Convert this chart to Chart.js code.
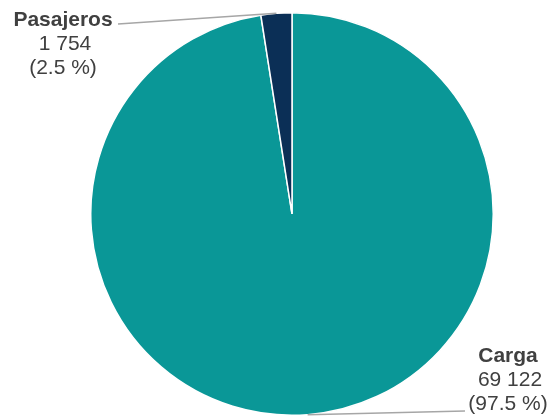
<!DOCTYPE html>
<html>
<head>
<meta charset="utf-8">
<script src="https://cdn.jsdelivr.net/npm/chart.js@4.4.1/dist/chart.umd.min.js"></script>
<style>
  html, body { margin: 0; padding: 0; background: #fff; }
  #wrap { width: 549px; height: 416px; }
</style>
</head>
<body>
<div id="wrap"><canvas id="grafico"></canvas></div>
<script>
const categorias = ["Carga", "Pasajeros"];
const valores = [69122, 1754];
const porcentajes = ["97.5 %", "2.5 %"];
const colores = ["#0a9797", "#0b2f56"];

const ctx = document.getElementById("grafico").getContext("2d");

// etiquetas con línea guía
const etiquetas = {
  id: "etiquetas",
  afterDraw(chart, args, opts) {
    const c = chart.ctx;
    const arcs = chart.getDatasetMeta(0).data;
    arcs.forEach((arc, i) => {
      const p = opts.pos[i];
      const mid = (arc.startAngle + arc.endAngle) / 2;
      const ax = arc.x + Math.cos(mid) * arc.outerRadius;
      const ay = arc.y + Math.sin(mid) * arc.outerRadius;
      const tx = p.x, ty = p.y;

      // línea
      c.save();
      c.strokeStyle = "#a6a6a6";
      c.lineWidth = 1.5;
      c.beginPath();
      c.moveTo(p.lx, p.ly);
      c.lineTo(ax, ay);
      c.stroke();

      // texto
      c.fillStyle = "#404040";
      c.textAlign = "center";
      c.textBaseline = "alphabetic";
      c.font = "bold 21px 'Liberation Sans', Arial, sans-serif";
      c.fillText(categorias[i], tx, ty);
      c.font = "21px 'Liberation Sans', Arial, sans-serif";
      c.fillText(valores[i].toLocaleString("fr-FR").replace(/\u202f|\u00a0/g, " "), tx + 2, ty + 24);
      c.fillText("(" + porcentajes[i] + ")", tx, ty + 48);
      c.restore();
    });
  }
};

const grafico = new Chart(ctx, {
  type: "pie",
  data: {
    labels: categorias,
    datasets: [{
      data: valores,
      backgroundColor: colores,
      borderColor: "#ffffff",
      borderWidth: 1.5
    }]
  },
  options: {
    responsive: true,
    maintainAspectRatio: false,
    animation: false,
    layout: { padding: { left: 90, right: 55, top: 12, bottom: 0 } },
    plugins: {
      legend: { display: false },
      tooltip: { enabled: false },
      etiquetas: {
        pos: [
          { x: 508, y: 362, lx: 465, ly: 411 },
          { x: 63, y: 26, lx: 118, ly: 24 }
        ]
      }
    }
  },
  plugins: [etiquetas]
});
</script>
</body>
</html>
